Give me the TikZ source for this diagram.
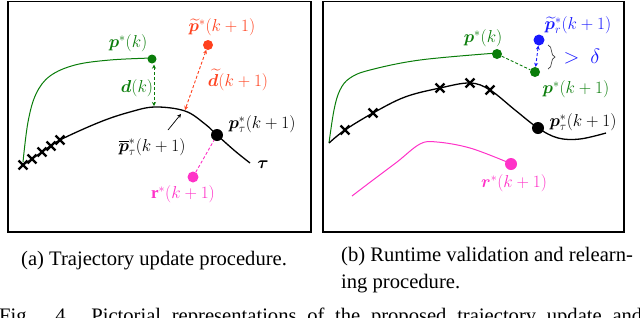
\documentclass[tikz,border=0pt]{standalone}
\usepackage{fontspec}
\setmainfont{Liberation Serif}
\usepackage{amsmath,bm}
\usetikzlibrary{arrows.meta,decorations.pathreplacing,shapes.misc}
\definecolor{myg}{RGB}{10,125,10}
\definecolor{myr}{RGB}{255,65,30}
\definecolor{mym}{RGB}{255,50,200}
\definecolor{myb}{RGB}{25,25,255}
\tikzset{
  frame/.style={line width=1.4pt},
  traj/.style={line width=1.3pt},
  thin traj/.style={line width=1pt},
  dotnode/.style={circle,fill,inner sep=0pt,minimum size=#1},
  xmark/.style={cross out,draw=black,line width=2.4pt,minimum size=6.5pt,inner sep=0pt},
  lbl/.style={font=\fontsize{17}{20}\selectfont,inner sep=1pt},
  captext/.style={font=\fontsize{20.6}{26}\selectfont,inner sep=0pt,anchor=base west},
  dline/.style={line width=0.9pt,dash pattern=on 3pt off 2pt},
  tip/.style={arrows={-{Stealth[length=4pt,width=4pt]}}},
  tips/.style={arrows={{Stealth[length=4pt,width=4pt]}-{Stealth[length=4pt,width=4pt]}}},
}
\begin{document}
\begin{tikzpicture}[x=1pt,y=-1pt]
\useasboundingbox (0,0) rectangle (640,317);
% frames
\draw[frame] (8,1.5) rectangle (311,232);
\draw[frame] (323,1.5) rectangle (624,232);

% ---------------- panel (a)
\draw[thin traj,myg] plot[smooth,tension=0.6] coordinates {(23,162) (28,122) (36,94) (50,76) (75,65) (110,60) (152,58)};
\draw[traj] plot[smooth,tension=0.6] coordinates {(23,165) (42,152) (60,140) (100,122) (130,112) (155,107) (185,111) (205,124) (217,135) (235,151) (250,163)};
\foreach \i/\p in {1/{(23,165)},2/{(32,159)},3/{(42,152)},4/{(51,146)},5/{(60,140)}}
  \node[xmark] (ax\i) at \p {};
\node[dotnode=9pt,fill=myg] (apk) at (152,59) {};
\node[dotnode=10pt,fill=myr] (apt) at (208,45) {};
\node[dotnode=12pt,fill=black] (aptau) at (217,135) {};
\node[dotnode=11pt,fill=mym] (ar) at (193,177) {};
\coordinate (adk) at (155,106);
\coordinate (adt) at (185,110);
\coordinate (apb) at (181,114);
\coordinate (apbs) at (168,130);
\draw[dline,tips,myg] (apk.south) ++(2,1) coordinate (apk0) -- (apk0 |- adk);
\draw[dline,tips,myr] (apt) -- (adt);
\draw[dline,mym] (ar) -- (aptau);
\draw[line width=0.7pt,tip] (apbs) -- (apb);
\node[lbl,text=myg] (lpk) at (128,43) {$\bm{p}^*(k)$};
\node[lbl,text=myg] (ldk) at (137,88) {$\bm{d}(k)$};
\node[lbl,text=myr] (lpt) at (222,27) {$\widetilde{\bm{p}}^*(k+1)$};
\node[lbl,text=myr] (ldt) at (238,80) {$\widetilde{\bm{d}}(k+1)$};
\node[lbl] (lptau) at (262,124) {$\bm{p}^*_\tau(k+1)$};
\node[lbl] (lpb) at (152,147) {$\overline{\bm{p}}^*_\tau(k+1)$};
\node[lbl] (ltau) at (263,165) {$\bm{\tau}$};
\node[lbl,text=mym] (lr) at (183,194) {$\mathbf{r}^*(k+1)$};

% ---------------- panel (b)
\draw[thin traj,myg] plot[smooth,tension=0.6] coordinates {(329,143) (334,110) (340,90) (350,78) (370,70) (420,60) (497,53)};
\draw[traj] plot[smooth,tension=0.6] coordinates {(329,143) (345,130) (373,113) (405,97) (440,88) (470,83) (490,90) (515,110) (538,128) (558,138) (580,139) (606,133)};
\draw[thin traj,mym] plot[smooth,tension=0.6] coordinates {(352,196) (373,180) (397,162) (420,144) (437,142) (470,148) (507,162)};
\foreach \i/\p in {1/{(345,130)},2/{(373,113)},3/{(440,88)},4/{(470,83)},5/{(490,90)}}
  \node[xmark] (bx\i) at \p {};
\node[dotnode=10pt,fill=myg] (bpk) at (497,54) {};
\node[dotnode=10pt,fill=myg] (bpk1) at (535,72) {};
\node[dotnode=11pt,fill=myb] (bpr) at (539,40) {};
\node[dotnode=12pt,fill=black] (bptau) at (538,128) {};
\node[dotnode=12pt,fill=mym] (br) at (511,164) {};
\draw[dline,myg] (bpk) -- (bpk1);
\draw[dline,tips,myb] (bpr) -- (bpk1);
\coordinate (bb1) at (548,45);
\coordinate (bb2) at (548,69);
\draw[line width=0.7pt,black!75,decorate,decoration={brace,amplitude=7pt}] (bb1) -- (bb2);
\node[font=\fontsize{21}{24}\selectfont,text=myb] (bdelta) at (582,57) {$>\ \delta$};
\node[lbl,text=myg] (lbpk) at (483,38) {$\bm{p}^*(k)$};
\node[lbl,text=myg] (lbpk1) at (576,89) {$\bm{p}^*(k+1)$};
\node[lbl,text=myb] (lbpr) at (578,25) {$\widetilde{\bm{p}}^*_r(k+1)$};
\node[lbl] (lbptau) at (583,122) {$\bm{p}^*_\tau(k+1)$};
\node[lbl,text=mym] (lbr) at (514,183) {$\bm{r}^*(k+1)$};

% ---------------- captions
\node[captext] (capa) at (21,265) {(a) Trajectory update procedure.};
\node[captext] (capb1) at (341,261) {(b) Runtime validation and relearn-};
\node[captext] (capb2) at (341,288) {ing procedure.};
\node[captext] (fig) at (-1,322) {\makebox[643pt][s]{Fig. 4.\quad Pictorial representations of the proposed trajectory update and}};
\end{tikzpicture}
\end{document}
